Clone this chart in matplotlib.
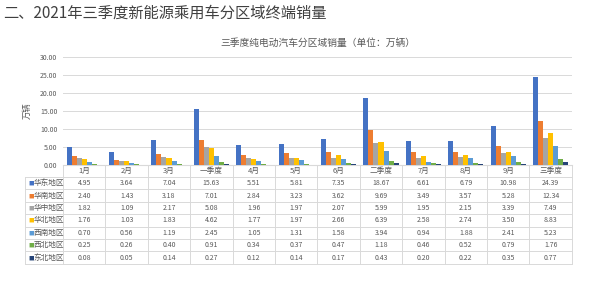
import numpy as np
import matplotlib
matplotlib.use("Agg")
import matplotlib.pyplot as plt
import matplotlib.transforms as mtransforms

plt.rcParams['font.family'] = ['Noto Sans CJK SC', 'DejaVu Sans']

categories = ['1月', '2月', '3月', '一季度', '4月', '5月', '6月', '二季度',
              '7月', '8月', '9月', '三季度']
regions = ['华东地区', '华南地区', '华中地区', '华北地区', '西南地区', '西北地区', '东北地区']
east = [4.95, 3.64, 7.04, 15.63, 5.51, 5.81, 7.35, 18.67, 6.61, 6.79, 10.98, 24.39]
south = [2.40, 1.43, 3.18, 7.01, 2.84, 3.23, 3.62, 9.69, 3.49, 3.57, 5.28, 12.34]
central = [1.82, 1.09, 2.17, 5.08, 1.96, 1.97, 2.07, 5.99, 1.95, 2.15, 3.39, 7.49]
north = [1.76, 1.03, 1.83, 4.62, 1.77, 1.97, 2.66, 6.39, 2.58, 2.74, 3.50, 8.83]
southwest = [0.70, 0.56, 1.19, 2.45, 1.05, 1.31, 1.58, 3.94, 0.94, 1.88, 2.41, 5.23]
northwest = [0.25, 0.26, 0.40, 0.91, 0.34, 0.37, 0.47, 1.18, 0.46, 0.52, 0.79, 1.76]
northeast = [0.08, 0.05, 0.14, 0.27, 0.12, 0.14, 0.17, 0.43, 0.20, 0.22, 0.35, 0.77]
series = [east, south, central, north, southwest, northwest, northeast]
colors = ['#4472C4', '#ED7D31', '#A5A5A5', '#FFC000', '#5B9BD5', '#70AD47', '#264478']

txt = '#595959'
line_c = '#D9D9D9'

fig = plt.figure(figsize=(6, 2.9), dpi=100)
ax = fig.add_axes([0.105, 0.431, 0.848, 0.372])

x = np.arange(len(categories))
n = len(series)
bw = 0.118
for i, (vals, c) in enumerate(zip(series, colors)):
    ax.bar(x + (i - (n - 1) / 2) * bw, vals, width=bw, color=c, zorder=3)

ax.set_xlim(-0.5, len(categories) - 0.5)
ax.set_ylim(0, 30)
ax.set_yticks(np.arange(0, 31, 5))
ax.set_yticklabels(['%.2f' % v for v in np.arange(0, 31, 5)], fontsize=5, color=txt)
ax.set_xticks([])
ax.tick_params(axis='y', length=0, pad=4)
ax.grid(axis='y', color=line_c, linewidth=0.7, zorder=0)
for s in ['top', 'right', 'left']:
    ax.spines[s].set_visible(False)
ax.spines['bottom'].set_color(line_c)
ax.spines['bottom'].set_linewidth(0.8)
ax.set_ylabel('万辆', fontsize=6, color=txt, labelpad=6)

ax.set_title('三季度纯电动汽车分区域销量（单位：万辆）', fontsize=7, color=txt, pad=8)

# data table under the axes
trans = mtransforms.blended_transform_factory(ax.transData, ax.transAxes)
rh = 0.115
hdr = 0.111
n_rows = len(regions)
bottom = -hdr - rh * n_rows
left_x = -0.5 - (63 - 25) / (507 / 12)

# vertical lines
for k in range(len(categories) + 1):
    ax.plot([k - 0.5, k - 0.5], [0, bottom], transform=trans, color=line_c,
            lw=0.7, clip_on=False)
ax.plot([left_x, left_x], [-hdr, bottom], transform=trans, color=line_c,
        lw=0.7, clip_on=False)
# horizontal lines
for r in range(n_rows + 1):
    yy = -hdr - r * rh
    ax.plot([left_x, len(categories) - 0.5], [yy, yy], transform=trans,
            color=line_c, lw=0.7, clip_on=False)

for k, cat in enumerate(categories):
    ax.text(k, -hdr / 2, cat, transform=trans, ha='center', va='center',
            fontsize=5.5, color=txt)

for r, (name, vals, c) in enumerate(zip(regions, series, colors)):
    yc = -hdr - (r + 0.5) * rh
    ax.text(left_x + 0.08, yc, '■', transform=trans, ha='left', va='center',
            fontsize=4, color=c)
    ax.text(left_x + 0.2, yc, name, transform=trans, ha='left', va='center',
            fontsize=5.5, color=txt)
    for k, v in enumerate(vals):
        ax.text(k, yc, '%.2f' % v, transform=trans, ha='center', va='center',
                fontsize=5, color=txt)

fig.text(0.005, 0.955, '二、2021年三季度新能源乘用车分区域终端销量', fontsize=11,
         color='#404040', ha='left', va='center')

fig.savefig('out.png', dpi=100, facecolor='white')
